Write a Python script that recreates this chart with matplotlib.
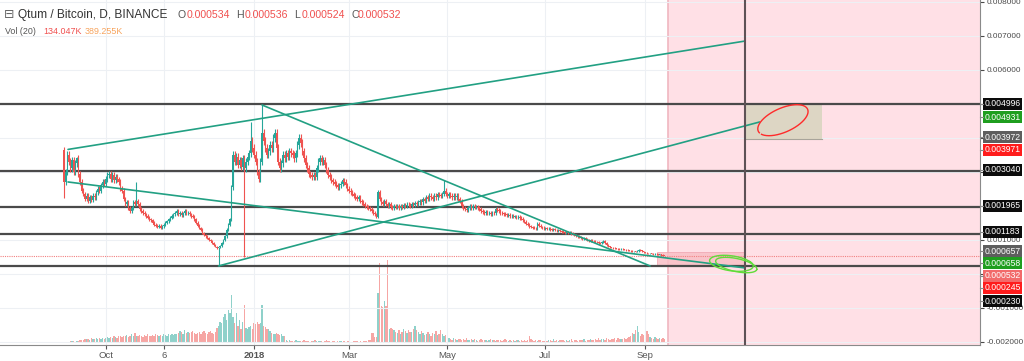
import numpy as np
import matplotlib
matplotlib.use('Agg')
import matplotlib.pyplot as plt
import matplotlib.dates as mdates
from matplotlib.patches import Rectangle
from matplotlib.lines import Line2D
from matplotlib.ticker import FuncFormatter

plt.rcParams['font.family'] = ['Liberation Sans', 'DejaVu Sans']

# ---------------- data ----------------
START = np.datetime64('2017-09-05')
FIRST_OPEN_U = 3640          # first candle open, 1e-6 BTC

CLOSE_U = [  # daily closes, 1e-6 BTC
    2700, 3000, 3500, 3300, 3100, 3350, 3000, 3250, 3400, 2950,
    2700, 2450, 2350, 2200, 2300, 2150, 2250, 2180, 2300, 2250,
    2400, 2500, 2450, 2600, 2700, 2650, 2800,
    2900, 2950, 2800, 2900, 2750, 2850, 2780, 2700, 2500, 2450, 2200, 2050, 2100, 1950, 1850,
    1950, 2100, 2050, 2150, 2050, 1900, 1850, 1800, 1750, 1700,
    1650, 1600, 1580, 1500, 1450, 1420, 1380, 1420, 1350, 1400,
    1450, 1500, 1550, 1600, 1650, 1700, 1750, 1800, 1850, 1750,
    1800, 1720, 1780, 1850, 1780, 1800, 1750, 1700, 1680,
    1600, 1500, 1420, 1350, 1300, 1200, 1150, 1100, 1050, 1000,
    980, 900, 850, 800, 760, 780, 820, 900, 1000, 1100,
    1300, 1450, 1600,
    2550, 3500, 3300, 3450, 3200, 3350, 3150, 3400, 3100, 3300,
    3450, 3550, 3900, 3700, 3500, 3300, 3000, 2800, 3300, 4150,
    3900, 3700, 3500, 3600, 3800, 3700, 4000,
    4150, 3700, 3300, 3100, 3250, 3500, 3400, 3550, 3450, 3600, 3550,
    3500, 3400, 3550, 3800, 4000, 3850, 3600, 3400, 3200, 3100,
    2950, 2900, 2850, 2900, 2850, 3100, 3300, 3400, 3300, 3350,
    3200, 3050, 2900, 2850, 2750, 2700, 2650, 2600, 2550, 2600,
    2650, 2750, 2700, 2600, 2500, 2450, 2400, 2350, 2300, 2250,
    2200, 2250, 2150, 2100, 2050, 2000, 1980, 1950, 1900, 1850,
    1800, 1750, 1680, 2400, 2200, 2100, 2050, 2150, 2050, 2000,
    2050, 1980,
    1950, 2000, 1960, 1990, 1950, 2000, 1970, 2020, 1990, 2040, 2020,
    2000, 2050, 2020, 2080, 2050, 2100, 2150, 2100, 2200, 2150,
    2250, 2200, 2300, 2250, 2200, 2300, 2250, 2350, 2320, 2300,
    2350, 2450, 2350, 2300, 2350, 2300, 2250, 2300, 2250, 2300,
    2200, 2150, 2000, 1950, 1900, 1880, 1950, 2000, 1950, 2000,
    1960,
    1980, 1940, 1900, 1850, 1820, 1800, 1820, 1780, 1800, 1760, 1790,
    1780, 1900, 1880, 1850, 1800, 1780, 1760, 1750, 1720, 1740,
    1700, 1710, 1680, 1690, 1660, 1670, 1640, 1620, 1580, 1530,
    1480, 1440, 1400, 1380, 1360, 1350, 1340, 1480, 1420, 1380,
    1360, 1340, 1350, 1320, 1330, 1310, 1300, 1310, 1290, 1280,
    1290,
    1260, 1240, 1230, 1210, 1220, 1200, 1210, 1190, 1170, 1150,
    1120, 1100, 1080, 1060, 1040, 1050, 1020, 1000, 980, 990,
    970, 960, 950, 930, 920, 900, 940, 960, 920, 860,
    810, 780, 770, 760, 750, 740, 730, 720, 730, 720,
    710, 700, 690, 680, 670, 660, 665, 650, 670, 700,
    690, 660, 630, 620, 610, 600, 610, 590, 580, 590,
    570, 560, 570, 555, 534, 532,
]

# notable wicks: index -> (high, low) in 1e-6 BTC
WICKS_U = {0: (3732, 2230), 8: (3440, None), 45: (2700, None), 96: (None, 233),
           112: (None, 500), 116: (4467, None), 123: (4967, None), 236: (2760, None),
           373: (536, 524)}

VOLUME_K = [
    30, 40, 50, 45, 60, 55, 70, 50, 60, 65,
    100, 120, 110, 140, 130, 150, 120, 160, 140, 150, 170, 130, 160, 150, 175, 140,
    160, 200, 180, 220, 190, 240, 210, 180, 250, 230, 200, 260, 240, 280, 220, 260, 300, 240,
    350, 260, 230, 280, 250, 220, 270, 240, 300, 260, 230, 280, 250, 310, 270, 240, 290, 260,
    320, 280, 250, 300, 270, 310, 290, 320,
    300, 350, 420, 380, 330, 450, 360, 400, 340, 380, 420, 360, 300, 350, 400, 320, 380, 420,
    350, 300, 380, 410, 360, 330, 400,
    520, 600, 750, 700, 900, 1000, 800, 1150, 1050,
    1680,
    900, 700, 1050, 600, 800, 500, 750,
    1330,
    520, 480, 550, 600, 500, 700, 650, 750, 680, 700, 1330, 600, 550, 480, 500, 420,
    350, 320, 300, 340, 300, 280, 320, 260, 230,
    90, 80, 100, 70, 85, 60, 95, 75, 65, 80,
    55, 90, 70, 60, 85, 50, 75, 65, 100, 70,
    55, 80, 60, 45, 70, 90, 55, 65, 50, 75,
    60, 40, 70, 55, 85, 50, 65, 45, 60, 75,
    50, 40, 65, 55, 70, 45, 60, 50, 80, 55,
    65, 90, 100,
    350, 350, 200, 220, 1750, 2800, 1300, 1250, 1470, 1300, 2900, 500, 520, 480, 450,
    400, 350, 450, 300, 380, 500, 420, 350, 460, 400, 380, 500, 600, 450, 380, 300, 420,
    350, 280, 330, 400, 300, 260, 350, 300, 420, 280, 330, 450, 300, 260, 280, 250,
    170, 150, 120, 160, 140, 110, 150, 130, 100, 140,
    120, 160, 110, 90, 130, 100, 150, 120, 80, 110,
    140, 100, 90, 120, 80, 110, 130, 90, 100, 70,
    120, 90, 110, 80, 100, 130, 90, 70, 110, 85,
    100, 75, 120, 90, 80, 110, 70, 95, 85, 100,
    245, 130, 90, 80, 110, 75, 95, 120, 85, 70,
    100, 80, 110, 90, 75, 130, 85, 95, 70, 110,
    90, 120, 80, 100, 75, 95, 140, 85, 110, 90,
    80, 100, 120, 90, 150, 85, 110, 95, 130, 100,
    120, 140, 100, 160, 110, 130, 150, 120, 170, 140,
    110, 150, 130, 160, 120, 175, 140, 130, 150, 160,
    130, 170,
    200, 260, 350, 300, 450, 600, 380, 250, 300, 280, 350, 420, 300, 200, 180, 150,
    220, 160, 140, 190, 150, 170, 134,
]

LEVELS = [0.004996, 0.003040, 0.001965, 0.001183, 0.000230]
LAST_PRICE = 0.000532

# trend lines: (day offset from START, price)
TREND_LINES = [((2.5, 0.003660), (423, 0.006848)),
               ((2.5, 0.002703), (423, 0.000174)),
               ((123, 0.004967), (364, 0.000233)),
               ((96, 0.000233), (432, 0.004467))]

PINK_ZONE_START = 375       # day offset
VLINE_DAY = 423
PINK_RECT = (368, 423, 0.000245, 0.000657)
BEIGE_RECT = (423, 471, 0.003972, 0.004996)

TICK_DATES = ['2017-10-01', '2017-11-06', '2018-01-01', '2018-03-01',
              '2018-05-01', '2018-07-01', '2018-09-01']
TICK_LABELS = ['Oct', '6', '2018', 'Mar', 'May', 'Jul', 'Sep']

PRICE_BOXES = [('0.004996', 104, '#0c0c0c'), ('0.004931', 117, '#1f9e1f'),
               ('0.003972', 137, '#5e5e5e'), ('0.003971', 150, '#ff1c1c'),
               ('0.003040', 170, '#0c0c0c'), ('0.001965', 206, '#0c0c0c'),
               ('0.001183', 232, '#0c0c0c'), ('0.000657', 251, '#5e5e5e'),
               ('0.000658', 263, '#1f9e1f'), ('0.000532', 276, '#f26a6a'),
               ('0.000245', 288, '#ff1c1c'), ('0.000230', 301, '#0c0c0c')]
HIDDEN_TICKS = [0.005, 0.004, 0.003, 0.002, 0.0]   # covered by price boxes

# ---------------- derived ----------------
n = min(len(CLOSE_U), len(VOLUME_K))
close = np.array(CLOSE_U[:n], float) * 1e-6
opn = np.concatenate([[FIRST_OPEN_U * 1e-6], close[:-1]])
WICK_FRAC = 0.03
high = np.maximum(opn, close) * (1 + WICK_FRAC)
low = np.minimum(opn, close) * (1 - WICK_FRAC)
for k, (h, l) in WICKS_U.items():
    if k < n:
        if h is not None:
            high[k] = h * 1e-6
        if l is not None:
            low[k] = l * 1e-6
vol = np.array(VOLUME_K[:n], float)

base = mdates.date2num(START)
x = base + np.arange(n)
up = close >= opn
UP_C, DN_C = '#26a69a', '#ef5350'
cols = np.where(up, UP_C, DN_C)
vcols = np.where(up, '#8fd1ca', '#f6a6a4')

# ---------------- figure ----------------
W, H = 1024, 361
fig = plt.figure(figsize=(W / 100, H / 100), dpi=100)
fig.patch.set_facecolor('white')
ax = fig.add_axes([0, 16 / H, 980 / W, 345 / H])
axv = ax.twinx()
ax.set_zorder(2)
axv.set_zorder(1)
ax.patch.set_visible(False)

ax.set_xlim(base - 39.75, base + 568.9)
ax.set_ylim(-0.002092, 0.008055)
axv.set_ylim(-70, 12005)
axv.set_yticks([])
for s in axv.spines.values():
    s.set_visible(False)

# volume
axv.bar(x, vol, width=0.85, color=vcols, linewidth=0)

# grid / ticks
yt = [k / 1000 for k in range(-2, 9)]
ax.set_yticks(yt)
def yfmt(v, p):
    if any(abs(v - h) < 1e-9 for h in HIDDEN_TICKS):
        return ''
    return f'{v:.6f}'
ax.yaxis.set_major_formatter(FuncFormatter(yfmt))
ax.yaxis.tick_right()
ax.tick_params(axis='y', length=3, pad=2, labelsize=5.9, colors='#4a4a4a')
tick_x = [mdates.date2num(np.datetime64(d)) for d in TICK_DATES]
ax.set_xticks(tick_x)
ax.set_xticklabels(TICK_LABELS)
for lab in ax.get_xticklabels():
    if lab.get_text() == '2018':
        lab.set_fontweight('bold')
ax.tick_params(axis='x', length=3, pad=1.5, labelsize=6.8, colors='#555555')
ax.grid(True, color='#edf0f4', lw=0.8)
ax.set_axisbelow(True)
for side in ['top', 'left']:
    ax.spines[side].set_visible(False)
ax.spines['bottom'].set_color('#8a8a8a')
ax.spines['right'].set_color('#8a8a8a')

# pink future zone
ax.axvspan(base + PINK_ZONE_START, base + 600, color='#ffe0e6', zorder=0.2, lw=0)
ax.axvline(base + PINK_ZONE_START, color='#f0b6c0', lw=1.2, zorder=0.3)

# horizontal levels
for lv in LEVELS:
    ax.axhline(lv, color='#4a4a4a', lw=1.6, zorder=2.5)
ax.axhline(LAST_PRICE, color='#f28080', lw=0.8, ls=(0, (1, 1)), zorder=2.4)

# rectangles
x0, x1, y0, y1 = PINK_RECT
ax.add_patch(Rectangle((base + x0, y0), x1 - x0, y1 - y0, facecolor='#f8bfc6',
                       edgecolor='#eea4ae', lw=0.6, alpha=0.85, zorder=2.2))
x0, x1, y0, y1 = BEIGE_RECT
ax.add_patch(Rectangle((base + x0, y0), x1 - x0, y1 - y0, facecolor='#ddd6c4',
                       edgecolor='none', zorder=2.2))
ax.plot([base + x0, base + x1], [y0, y0], color='#a8a49a', lw=0.8, zorder=2.3)

# candles
ax.vlines(x, low, high, colors=cols, lw=0.8, zorder=3)
body = np.maximum(np.abs(close - opn), 10e-6)
ax.bar(x, body, bottom=np.minimum(opn, close), width=0.85, color=cols, lw=0, zorder=3.1)

# trend lines
for (d0, p0), (d1, p1) in TREND_LINES:
    ax.plot([base + d0, base + d1], [p0, p1], color='#22a083', lw=1.2, zorder=4,
            solid_capstyle='round')

# vertical marker line
ax.axvline(base + VLINE_DAY, color='#5e5256', lw=1.5, zorder=4.5)

# hand-drawn loops (pixel scale: 1.61 px/day, 34000 px/price)
PXD, PXP = 1.61, 34000.0
def loop(cd, cp, a_px, b_px, ang_deg, t0, t1, color, lw=1.0):
    t = np.linspace(t0, t1, 200)
    th = np.deg2rad(ang_deg)
    dx = a_px * np.cos(t) * np.cos(th) - b_px * np.sin(t) * np.sin(th)
    dy = a_px * np.cos(t) * np.sin(th) + b_px * np.sin(t) * np.cos(th)
    ax.plot(base + cd + dx / PXD, cp + dy / PXP, color=color, lw=lw, zorder=5)

loop(414.5, 0.00031, 22, 7.5, -8, 0.3, 2 * np.pi + 0.6, '#5fdc3a', 1.0)
loop(417.5, 0.00026, 21, 6.5, -12, 0.0, 2 * np.pi, '#5fdc3a', 1.0)
loop(446.5, 0.00452, 27, 12, 24, 3.5, 2 * np.pi + 3.3, '#ff2a2a', 1.0)

# right-side price boxes
for txt, ypx, fc in PRICE_BOXES:
    fig.add_artist(Rectangle((983 / W, (H - ypx - 6) / H), 39 / W, 12 / H,
                             transform=fig.transFigure, facecolor=fc, edgecolor='none', zorder=6))
    fig.add_artist(Line2D([980 / W, 983 / W], [(H - ypx) / H] * 2, transform=fig.transFigure,
                          color='#8a8a8a', lw=0.8, zorder=6))
    fig.text(1002.5 / W, (H - ypx) / H, txt, color='white', fontsize=6.2,
             ha='center', va='center', zorder=7)

# header
yh = 1 - 15 / H
fig.text(4 / W, yh, '\u229f', fontsize=9, color='#666666', va='center',
         family=['DejaVu Sans'], zorder=7)
fig.text(18 / W, yh, 'Qtum / Bitcoin, D, BINANCE', fontsize=8.6, color='#333333',
         va='center', zorder=7)
RED_T = '#f0504f'
for lx, letter, vx, val in [(178, 'O', 187, '0.000534'), (236, 'H', 245, '0.000536'),
                            (294, 'L', 302, '0.000524'), (351, 'C', 358, '0.000532')]:
    fig.text(lx / W, yh, letter, fontsize=7.6, color='#555555', va='center', zorder=7)
    fig.text(vx / W, yh, val, fontsize=7.6, color=RED_T, va='center', zorder=7)
yv = 1 - 31 / H
fig.text(5 / W, yv, 'Vol (20)', fontsize=6.4, color='#555555', va='center', zorder=7)
fig.text(43 / W, yv, '134.047K', fontsize=6.4, color=RED_T, va='center', zorder=7)
fig.text(85 / W, yv, '389.255K', fontsize=6.4, color='#f7a35c', va='center', zorder=7)

fig.savefig('out.png', dpi=100, facecolor='white')
